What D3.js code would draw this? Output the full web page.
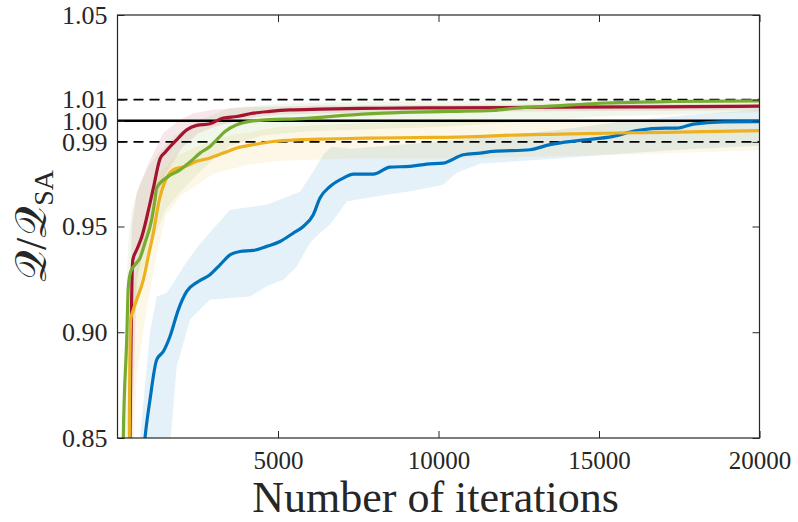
<!DOCTYPE html>
<html>
<head>
<meta charset="utf-8">
<script src="https://cdn.jsdelivr.net/npm/d3@7"></script>
<style>
    body { margin: 0; background: #fff; }
    svg text { font-family: "Liberation Serif", "Times New Roman", Times, serif; fill: #262626; }
</style>
</head>
<body>
<svg id="svg"></svg>
<script>
// tick values
const iterTicks = [5000, 10000, 15000, 20000];
const ratioTicks = [0.85, 0.90, 0.95, 0.99, 1.00, 1.01, 1.05];
const ratioLabels = ["0.85", "0.90", "0.95", "0.99", "1.00", "1.01", "1.05"];

// reference levels
const solidRef = [1.00];
const dashedRef = [0.99, 1.01];

// blue
const blueIter = [700, 857, 1012, 1221, 1427, 1635, 1894, 2156, 2517, 2881, 3193, 3504, 3816, 4230, 4648, 5062, 5476, 5788, 6099, 6308, 6620, 7034, 7345, 7968, 8488, 9111, 9632, 10149, 10772, 11292, 11706, 12849, 13472, 14407, 15444, 16173, 17107, 17419, 17936, 18871, 20000];
const blueMean = [0.82, 0.85, 0.8681, 0.8870, 0.8909, 0.8980, 0.9106, 0.9193, 0.9240, 0.9272, 0.9319, 0.9366, 0.9382, 0.9387, 0.9406, 0.9429, 0.9469, 0.9500, 0.9556, 0.9635, 0.9689, 0.9729, 0.9748, 0.9748, 0.9781, 0.9784, 0.9795, 0.9800, 0.9839, 0.9847, 0.9855, 0.9863, 0.9887, 0.9907, 0.9926, 0.9954, 0.9965, 0.9965, 0.9984, 0.9995, 0.9996];
const blueHiIter = [600, 701, 1012, 1221, 1533, 2156, 2570, 3504, 4648, 5685, 6099, 6411, 6672, 7242, 8800, 10669, 13784, 15653, 17834, 20000];
const blueHi = [0.82, 0.8501, 0.8998, 0.9169, 0.9185, 0.9333, 0.9418, 0.9579, 0.9603, 0.9664, 0.9760, 0.9839, 0.9878, 0.9868, 0.9887, 0.9910, 0.9957, 0.9995, 1.0028, 1.0052];
const blueLoIter = [1550, 1844, 2258, 2881, 3504, 4127, 4648, 5165, 5582, 5997, 6308, 6620, 7140, 7763, 8386, 9214, 10149, 10566, 11292, 13161, 15239, 17522, 20000];
const blueLo = [0.83, 0.8838, 0.9059, 0.9154, 0.9162, 0.9169, 0.9217, 0.9248, 0.9311, 0.9422, 0.9469, 0.9508, 0.9618, 0.9635, 0.9650, 0.9669, 0.9697, 0.9754, 0.9797, 0.9816, 0.9839, 0.9863, 0.9882];

// red
const redIter = [370, 389, 420, 474, 598, 754, 1012, 1115, 1324, 1480, 1844, 2156, 2467, 2881, 3296, 3713, 4230, 4750, 5373, 6308, 8177, 10357, 13784, 16587, 20000];
const redMean = [0.80, 0.849, 0.894, 0.934, 0.939, 0.945, 0.961, 0.968, 0.982, 0.985, 0.991, 0.9957, 0.9978, 0.9986, 1.0013, 1.002, 1.0036, 1.0044, 1.0051, 1.0055, 1.0059, 1.0061, 1.0064, 1.0066, 1.0069];
const redHiIter = [330, 442, 598, 910, 1427, 1947, 2361, 2984, 4000, 6000, 10000, 20000];
const redHi = [0.83, 0.950, 0.966, 0.978, 0.9942, 1.0005, 1.0036, 1.0052, 1.0064, 1.0071, 1.0074, 1.0080];
const redLoIter = [420, 600, 900, 1200, 1500, 2000, 2500, 3000, 4000, 5000, 8000, 20000];
const redLo = [0.83, 0.925, 0.945, 0.962, 0.975, 0.987, 0.994, 0.997, 1.001, 1.003, 1.004, 1.005];

// yellow
const yellowIter = [355, 368, 411, 492, 598, 804, 959, 1115, 1302, 1480, 1738, 2103, 2467, 2881, 3296, 3713, 4230, 4853, 5582, 6308, 7763, 9837, 11395, 11915, 13784, 15550, 17834, 20000];
const yellowMean = [0.80, 0.85, 0.9059, 0.9106, 0.9154, 0.9248, 0.9358, 0.9469, 0.9626, 0.9713, 0.9768, 0.9784, 0.9808, 0.9824, 0.9847, 0.9871, 0.9887, 0.9902, 0.9910, 0.9913, 0.9918, 0.9921, 0.9926, 0.9930, 0.9937, 0.9942, 0.9947, 0.9953];
const yellowHiIter = [300, 450, 700, 1000, 1300, 1800, 2500, 3500, 5000, 8000, 12000, 16000, 20000];
const yellowHi = [0.83, 0.915, 0.94, 0.962, 0.975, 0.983, 0.988, 0.993, 0.997, 0.999, 1.000, 1.000, 1.001];
const yellowLoIter = [450, 600, 900, 1200, 1500, 2000, 3000, 4000, 5000, 7000, 10000, 13000, 16000, 20000];
const yellowLo = [0.83, 0.88, 0.91, 0.935, 0.955, 0.965, 0.975, 0.979, 0.981, 0.982, 0.982, 0.983, 0.984, 0.986];

// green
const greenIter = [170, 181, 287, 336, 411, 545, 701, 857, 1064, 1167, 1219, 1582, 1947, 2258, 2570, 2881, 3090, 3349, 3713, 4127, 4750, 5582, 6308, 7034, 8280, 10357, 11706, 12435, 13379, 15239, 17304, 20000];
const greenMean = [0.80, 0.85, 0.8965, 0.9215, 0.9286, 0.9319, 0.9351, 0.9423, 0.9532, 0.9626, 0.9682, 0.9737, 0.9768, 0.9805, 0.9847, 0.9878, 0.9910, 0.9949, 0.9981, 0.9997, 1.0005, 1.0009, 1.0016, 1.0025, 1.0036, 1.0044, 1.0049, 1.0060, 1.0068, 1.0084, 1.0091, 1.0094];
const greenHiIter = [150, 250, 300, 350, 450, 700, 1000, 1300, 1800, 2500, 3500, 5000, 8000, 12000, 20000];
const greenHi = [0.83, 0.88, 0.93, 0.945, 0.958, 0.970, 0.979, 0.985, 0.993, 1.000, 1.006, 1.008, 1.009, 1.0095, 1.0105];
const greenLoIter = [220, 500, 800, 1100, 1500, 2000, 2500, 3000, 3500, 4500, 6000, 10000, 15000, 20000];
const greenLo = [0.83, 0.905, 0.93, 0.943, 0.958, 0.967, 0.975, 0.982, 0.988, 0.993, 0.995, 0.997, 1.002, 1.004];

const zip = (xs, ys) => xs.map((v, i) => [v, ys[i]]);

// drawing order: blue, red, yellow, green
const series = [
    { color: "#0072BD", mean: zip(blueIter, blueMean), hi: zip(blueHiIter, blueHi), lo: zip(blueLoIter, blueLo) },
    { color: "#A2142F", mean: zip(redIter, redMean), hi: zip(redHiIter, redHi), lo: zip(redLoIter, redLo) },
    { color: "#EDB120", mean: zip(yellowIter, yellowMean), hi: zip(yellowHiIter, yellowHi), lo: zip(yellowLoIter, yellowLo) },
    { color: "#77AC30", mean: zip(greenIter, greenMean), hi: zip(greenHiIter, greenHi), lo: zip(greenLoIter, greenLo) }
];

const W = 798, H = 522;
const plot = { left: 117.5, right: 759.5, top: 15, bottom: 438 };
const serif = "'Liberation Serif', 'Times New Roman', Times, serif";

const svg = d3.select("#svg").attr("width", W).attr("height", H);

const x = d3.scaleLinear().domain([0, 20000]).range([plot.left, plot.right]);
const y = d3.scaleLinear().domain([0.85, 1.05]).range([plot.bottom, plot.top]);

svg.append("defs").append("clipPath").attr("id", "clip")
    .append("rect")
    .attr("x", plot.left).attr("y", plot.top)
    .attr("width", plot.right - plot.left).attr("height", plot.bottom - plot.top);

const area = svg.append("g").attr("clip-path", "url(#clip)");

const line = d3.line().x(d => x(d[0])).y(d => y(d[1]));
const smooth = d3.line().x(d => x(d[0])).y(d => y(d[1])).curve(d3.curveMonotoneX);

// shaded spread
area.selectAll("path.band")
    .data(series)
    .join("path")
    .attr("class", "band")
    .attr("d", s => line(s.hi.concat(s.lo.slice().reverse())) + "Z")
    .attr("fill", s => s.color)
    .attr("fill-opacity", 0.1)
    .attr("stroke", "none");

// reference lines
area.selectAll("line.ref")
    .data(solidRef)
    .join("line")
    .attr("class", "ref")
    .attr("x1", plot.left).attr("x2", plot.right)
    .attr("y1", d => y(d)).attr("y2", d => y(d))
    .attr("stroke", "#000").attr("stroke-width", 2.5);

area.selectAll("line.dref")
    .data(dashedRef)
    .join("line")
    .attr("class", "dref")
    .attr("x1", plot.left).attr("x2", plot.right)
    .attr("y1", d => y(d)).attr("y2", d => y(d))
    .attr("stroke", "#000").attr("stroke-width", 1.6)
    .attr("stroke-dasharray", "10,6");

// mean curves
area.selectAll("path.mean")
    .data(series)
    .join("path")
    .attr("class", "mean")
    .attr("d", s => smooth(s.mean))
    .attr("fill", "none")
    .attr("stroke", s => s.color)
    .attr("stroke-width", 3.2)
    .attr("stroke-linejoin", "round");

// axes (box with inward ticks on all sides)
const tick = 7;
const axisColor = "#262626";

svg.append("g")
    .attr("transform", "translate(0," + plot.bottom + ")")
    .call(d3.axisBottom(x).tickValues(iterTicks).tickSizeInner(-tick).tickSizeOuter(0).tickPadding(13).tickFormat(d3.format("d")))
    .attr("font-family", serif)
    .call(g => g.select(".domain").remove())
    .call(g => g.selectAll("line").attr("stroke", axisColor))
    .call(g => g.selectAll("text").attr("font-size", 25).attr("fill", axisColor));

svg.append("g")
    .attr("transform", "translate(0," + plot.top + ")")
    .call(d3.axisTop(x).tickValues(iterTicks).tickSizeInner(-tick).tickSizeOuter(0).tickFormat(""))
    .call(g => g.select(".domain").remove())
    .call(g => g.selectAll("line").attr("stroke", axisColor));

svg.append("g")
    .attr("transform", "translate(" + plot.left + ",0)")
    .call(d3.axisLeft(y).tickValues(ratioTicks).tickSizeInner(-tick).tickSizeOuter(0).tickPadding(10)
        .tickFormat((d, i) => ratioLabels[i]))
    .attr("font-family", serif)
    .call(g => g.select(".domain").remove())
    .call(g => g.selectAll("line").attr("stroke", axisColor))
    .call(g => g.selectAll("text").attr("font-size", 26).attr("fill", axisColor));

svg.append("g")
    .attr("transform", "translate(" + plot.right + ",0)")
    .call(d3.axisRight(y).tickValues(ratioTicks).tickSizeInner(-tick).tickSizeOuter(0).tickFormat(""))
    .call(g => g.select(".domain").remove())
    .call(g => g.selectAll("line").attr("stroke", axisColor));

svg.append("rect")
    .attr("x", plot.left).attr("y", plot.top)
    .attr("width", plot.right - plot.left).attr("height", plot.bottom - plot.top)
    .attr("fill", "none").attr("stroke", axisColor).attr("stroke-width", 1.2);

// axis titles
svg.append("text")
    .attr("x", (plot.left + plot.right) / 2 - 3)
    .attr("y", 512)
    .attr("text-anchor", "middle")
    .attr("font-family", serif)
    .attr("font-size", 44)
    .text("Number of iterations");

const ylab = svg.append("text")
    .attr("transform", "translate(46,226) rotate(-90)")
    .attr("text-anchor", "middle")
    .attr("font-family", serif)
    .attr("font-size", 44);
ylab.append("tspan").text("𝒬/𝒬");
ylab.append("tspan").attr("font-size", 28).attr("dy", 7).text("SA");
</script>
</body>
</html>
